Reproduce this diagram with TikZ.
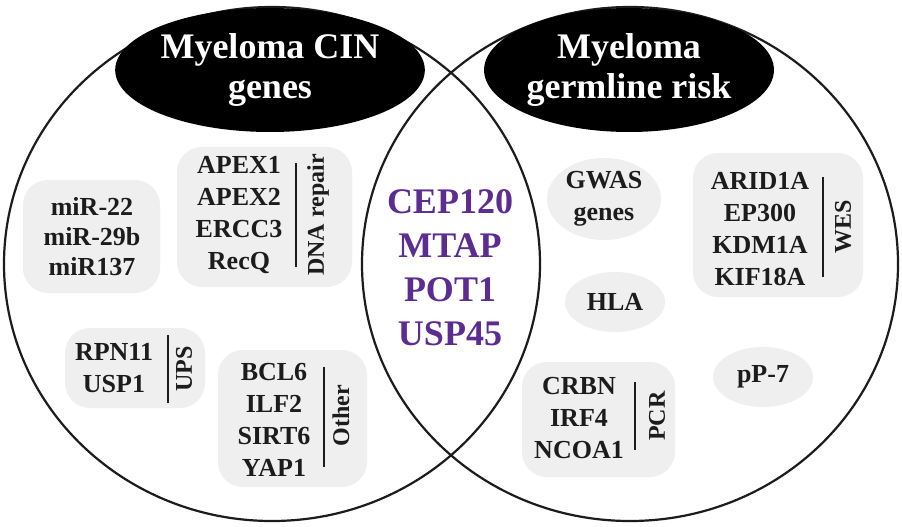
\documentclass[tikz,border=0pt]{standalone}
\usepackage{fontspec}
\setmainfont{Liberation Serif}
\usetikzlibrary{shapes.geometric}
\definecolor{gfill}{RGB}{239,239,239}
\definecolor{purp}{RGB}{92,44,145}
\definecolor{ink}{RGB}{28,28,28}
\begin{document}
\begin{tikzpicture}[x=1pt,y=-1pt,
  circ/.style={line width=2.2pt, draw=ink},
  hdr/.style={ellipse, fill=black, inner sep=0pt, minimum width=288pt, minimum height=124pt, text=white, align=center, font=\fontsize{36}{40}\selectfont\bfseries},
  gbox/.style={fill=gfill, rounded corners=25pt, inner sep=0pt},
  gell/.style={ellipse, fill=gfill, inner sep=0pt, align=center, text=ink, font=\fontsize{26}{32}\selectfont\bfseries},
  genes/.style={align=center, inner sep=0pt, text=ink, font=\fontsize{26}{32}\selectfont\bfseries},
  mir/.style={genes, font=\fontsize{26}{30}\selectfont\bfseries},
  lab/.style={rotate=90, inner sep=0pt, text=ink, font=\fontsize{24}{28}\selectfont\bfseries},
  sep/.style={line width=2pt, draw=ink},
  shared/.style={align=center, inner sep=0pt, text=purp, font=\fontsize{36}{44}\selectfont\bfseries}]
\useasboundingbox (0,0) rectangle (902,527);
\fill[white] (0,0) rectangle (902,527);

% grey boxes
\node[gbox, minimum width=137pt, minimum height=113pt] (mirbox) at (91.5,236.5) {};
\node[gbox, minimum width=175pt, minimum height=140pt] (dnabox) at (264.5,217) {};
\node[gbox, minimum width=140pt, minimum height=80pt] (upsbox) at (135,368) {};
\node[gbox, minimum width=149pt, minimum height=137pt] (othbox) at (292.5,418.5) {};
\node[gbox, minimum width=170pt, minimum height=144pt] (wesbox) at (778,225) {};
\node[gbox, minimum width=153pt, minimum height=115pt] (pcrbox) at (598.5,419.5) {};

% circles
\draw[circ] (272,264) ellipse [x radius=268pt, y radius=257pt];
\draw[circ] (630,264) ellipse [x radius=268pt, y radius=257pt];

% headers
\node[hdr] (cin) at (270,70) {Myeloma CIN\\genes};
\node[hdr] (germ) at (629,70) {Myeloma\\germline risk};

% left circle contents
\node[mir] (mirtxt) at (92,237) {miR-22\\miR-29b\\miR137};
\node[genes] (dnatxt) at (239,215) {APEX1\\APEX2\\ERCC3\\RecQ};
\coordinate (dnat) at (296,163); \coordinate (dnab) at (296,267);
\draw[sep] (dnat) -- (dnab);
\node[lab] (dnalab) at (318,215) {DNA repair};

\node[genes] (upstxt) at (114,368.5) {RPN11\\USP1};
\coordinate (upst) at (168,335); \coordinate (upsb) at (168,403);
\draw[sep] (upst) -- (upsb);
\node[lab] (upslab) at (184,369) {UPS};

\node[genes] (othtxt) at (274,420) {BCL6\\ILF2\\SIRT6\\YAP1};
\coordinate (otht) at (324,367); \coordinate (othb) at (324,467);
\draw[sep] (otht) -- (othb);
\node[lab] (othlab) at (341,416) {Other};

% intersection
\node[shared] (shtxt) at (450,268) {CEP120\\MTAP\\POT1\\USP45};

% right circle contents
\node[gell, minimum width=114pt, minimum height=82pt] (gwas) at (604,199) {GWAS\\genes};
\node[gell, minimum width=100pt, minimum height=60pt] (hla) at (615,302) {HLA};
\node[gell, minimum width=100pt, minimum height=60pt] (pp7) at (763,377) {pP-7};

\node[genes] (westxt) at (760,229) {ARID1A\\EP300\\KDM1A\\KIF18A};
\coordinate (west) at (823,177); \coordinate (wesb) at (823,277);
\draw[sep] (west) -- (wesb);
\node[lab] (weslab) at (843,227) {WES};

\node[genes] (pcrtxt) at (579,418) {CRBN\\IRF4\\NCOA1};
\coordinate (pcrt) at (635,382); \coordinate (pcrb) at (635,450);
\draw[sep] (pcrt) -- (pcrb);
\node[lab] (pcrlab) at (657,416) {PCR};
\end{tikzpicture}
\end{document}
